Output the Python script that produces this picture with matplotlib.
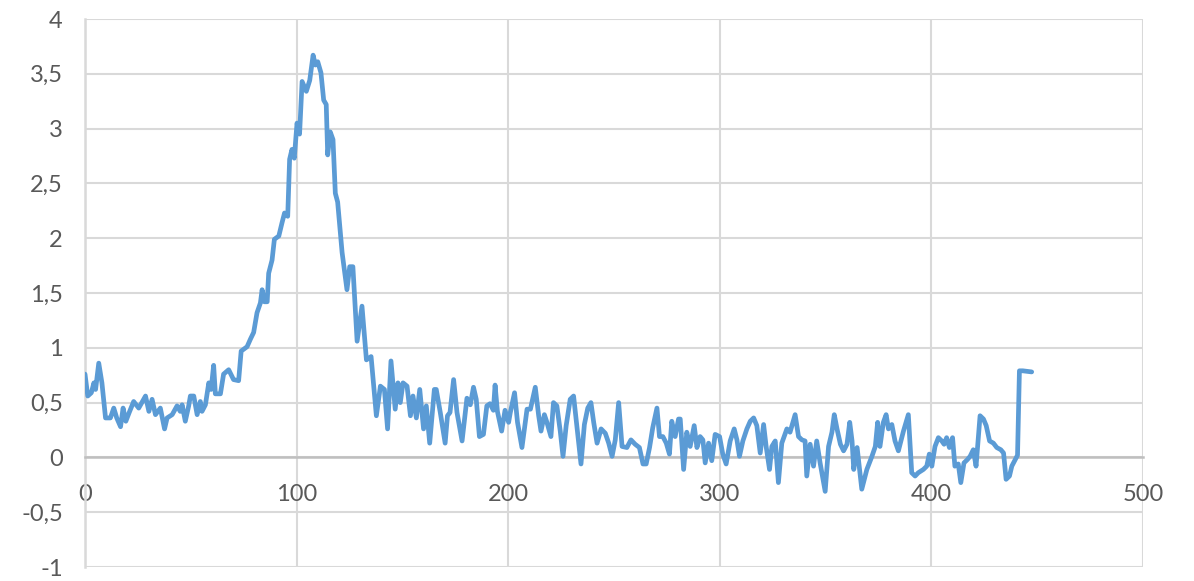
import matplotlib
matplotlib.use("Agg")
import matplotlib.pyplot as plt

# ---- data ----
x_vals = [
    0, 1.3, 3, 4.2, 5, 6.5, 8, 9.7, 12, 13.6, 15, 16.8, 18, 19.3, 20.9, 23, 25.4, 28.6,
    30.2, 31.7, 33.3, 35.6, 37.6, 38.8, 41.2, 43.5, 45, 45.9, 47.4, 49, 49.8, 51.4, 53,
    54.5, 55.3, 56.9, 58.5, 59.6, 60.8, 61.6, 64, 65.5, 67.9, 70.2, 72.6, 73.8, 76.6,
    78.2, 79.7, 81.3, 82.9, 83.7, 84.8, 86.1, 86.8, 88.4, 89.5, 91.6, 93.1, 94.3, 95.8,
    96.7, 97.8, 98.9, 100.2, 101.4, 102.6, 104.6, 106.2, 107.8, 108.9, 110, 111.5, 112.8,
    114, 114.7, 115.9, 117.2, 118.3, 119.4, 121.5, 123.8, 125.1, 126.6, 128.6, 130.9,
    133, 135.2, 137.7, 139.6, 141.5, 143, 144.6, 146.6, 147.9, 149, 150.3, 152.2, 153.8,
    155, 156.6, 158.2, 160, 161.3, 162.9, 165.1, 166, 167.9, 170.2, 171.3, 172.5, 174.2,
    175.8, 178.2, 180.5, 182.1, 183.6, 184.9, 186.4, 188.3, 189.9, 191.4, 193, 193.8,
    194.9, 196.9, 198.5, 200.2, 201, 203, 204.4, 206.5, 208.9, 210.5, 212.8, 214.4,
    215.5, 217.1, 218.3, 220.2, 221.4, 223, 224.6, 225.9, 227.4, 229.3, 230.9, 232.8,
    234.4, 236, 237.6, 239.1, 240.4, 242, 243.9, 245.9, 247.5, 249.1, 250.6, 252.2,
    253.8, 256.1, 258, 260, 262, 263.7, 265.2, 266.8, 268.3, 270.3, 271.5, 273.1, 274.7,
    276.2, 277.3, 278.9, 280.5, 281.3, 282.9, 284.4, 286, 287.9, 289.2, 290.7, 292,
    293.1, 294.7, 296.2, 297.8, 299.9, 301.4, 303, 304.9, 306.8, 308.1, 309.3, 310.9,
    312.8, 314.4, 316, 317.5, 319.1, 320.7, 321.9, 323.5, 324.6, 326.2, 327.7, 329.3,
    331.7, 333.2, 335.6, 337.2, 338.8, 340.3, 341.1, 342.7, 344.3, 345.8, 347.4, 349.8,
    351.4, 353, 354.1, 355.4, 357, 358.5, 360.1, 361.4, 362.5, 363.3, 364.9, 367.1,
    369.5, 371.9, 373.5, 374.6, 375.7, 377.3, 378.6, 379.7, 381.3, 382.8, 384.4, 386.8,
    389.1, 390.7, 392.3, 393.8, 396.2, 397.8, 399, 400.2, 401.7, 403.3, 404.9, 406,
    407.2, 408.5, 410, 411.1, 412.7, 413.9, 415.4, 417, 418.3, 419.8, 421.1, 423, 424.6,
    425.9, 427.5, 429.3, 430.9, 432.8, 434.1, 435.3, 436.9, 438, 439.6, 440.7, 441.6,
    443.2, 447.4,
]
y_vals = [
    0.76, 0.56, 0.59, 0.68, 0.62, 0.86, 0.68, 0.36, 0.36, 0.45, 0.36, 0.28, 0.45, 0.33,
    0.41, 0.51, 0.45, 0.56, 0.42, 0.53, 0.39, 0.45, 0.26, 0.36, 0.39, 0.47, 0.42, 0.48,
    0.33, 0.47, 0.56, 0.56, 0.39, 0.51, 0.42, 0.48, 0.68, 0.62, 0.84, 0.58, 0.58, 0.76,
    0.80, 0.71, 0.70, 0.97, 1.01, 1.08, 1.14, 1.32, 1.41, 1.53, 1.42, 1.42, 1.68, 1.80,
    1.99, 2.02, 2.14, 2.23, 2.20, 2.72, 2.81, 2.73, 3.05, 2.95, 3.43, 3.34, 3.44, 3.67,
    3.58, 3.61, 3.51, 3.26, 3.22, 2.76, 2.97, 2.90, 2.41, 2.33, 1.87, 1.53, 1.74, 1.74,
    1.06, 1.38, 0.89, 0.92, 0.38, 0.65, 0.62, 0.26, 0.88, 0.44, 0.68, 0.50, 0.68, 0.65,
    0.38, 0.56, 0.36, 0.62, 0.26, 0.47, 0.13, 0.62, 0.62, 0.41, 0.13, 0.38, 0.41, 0.71,
    0.41, 0.15, 0.54, 0.48, 0.64, 0.53, 0.19, 0.21, 0.47, 0.49, 0.43, 0.66, 0.42, 0.24,
    0.43, 0.32, 0.41, 0.59, 0.32, 0.09, 0.44, 0.44, 0.64, 0.38, 0.24, 0.39, 0.32, 0.19,
    0.50, 0.47, 0.24, 0.01, 0.29, 0.53, 0.56, 0.22, -0.06, 0.30, 0.45, 0.50, 0.32, 0.13,
    0.26, 0.22, 0.13, 0.01, 0.16, 0.50, 0.10, 0.09, 0.16, 0.12, 0.09, -0.06, -0.06,
    0.09, 0.27, 0.45, 0.19, 0.19, 0.13, 0.03, 0.33, 0.19, 0.35, 0.35, -0.11, 0.23, 0.10,
    0.29, 0.09, 0.19, 0.16, -0.05, 0.13, -0.03, 0.21, 0.19, 0.03, -0.06, 0.15, 0.26,
    0.16, 0.01, 0.15, 0.26, 0.33, 0.36, 0.29, 0.04, 0.30, 0.10, -0.11, 0.10, 0.15,
    -0.23, 0.13, 0.26, 0.23, 0.39, 0.19, 0.16, 0.15, -0.17, 0.12, -0.08, 0.15, -0.05,
    -0.31, 0.10, 0.23, 0.39, 0.26, 0.12, 0.06, 0.12, 0.32, 0.15, -0.11, 0.09, -0.29,
    -0.11, 0.01, 0.10, 0.32, 0.10, 0.32, 0.39, 0.26, 0.30, 0.15, 0.06, 0.24, 0.39,
    -0.14, -0.17, -0.14, -0.11, -0.08, 0.03, -0.08, 0.10, 0.18, 0.15, 0.12, 0.18, 0.09,
    0.18, -0.08, -0.06, -0.23, -0.05, -0.02, 0.01, 0.07, -0.08, 0.38, 0.35, 0.29, 0.15,
    0.13, 0.09, 0.07, 0.04, -0.20, -0.17, -0.08, -0.02, 0.02, 0.79, 0.79, 0.78,
]

x_ticks = [0, 100, 200, 300, 400, 500]
x_tick_labels = ["0", "100", "200", "300", "400", "500"]
y_ticks = [-1, -0.5, 0, 0.5, 1, 1.5, 2, 2.5, 3, 3.5, 4]
y_tick_labels = ["-1", "-0,5", "0", "0,5", "1", "1,5", "2", "2,5", "3", "3,5", "4"]

# ---- figure ----
plt.rcParams['font.family'] = ['Lato', 'DejaVu Sans']
fig = plt.figure(figsize=(11.94, 5.81), dpi=100)
ax = fig.add_axes([85 / 1194, 1 - 567 / 581, (1143 - 85) / 1194, (567 - 19) / 581])

grid_c = "#D9D9D9"
ax.set_xlim(0, 500)
ax.set_ylim(-1, 4)
ax.set_xticks(x_ticks)
ax.set_xticklabels(x_tick_labels)
ax.set_yticks(y_ticks)
ax.set_yticklabels(y_tick_labels)
ax.grid(True, color=grid_c, linewidth=1.5)
ax.set_axisbelow(True)

for s in ["top", "right"]:
    ax.spines[s].set_visible(False)
ax.spines["left"].set_color(grid_c)
ax.spines["left"].set_linewidth(1.8)
ax.spines["bottom"].set_position(("data", 0))
ax.spines["bottom"].set_color("#BFBFBF")
ax.spines["bottom"].set_linewidth(1.8)

ax.tick_params(axis="both", length=0, labelsize=17, labelcolor="#595959")
ax.tick_params(axis="y", pad=16)
ax.tick_params(axis="x", pad=19)

ax.plot(x_vals, y_vals, color="#5B9BD5", linewidth=3.4,
        solid_joinstyle="round", solid_capstyle="round", zorder=3)

fig.savefig("out.png", dpi=100)
